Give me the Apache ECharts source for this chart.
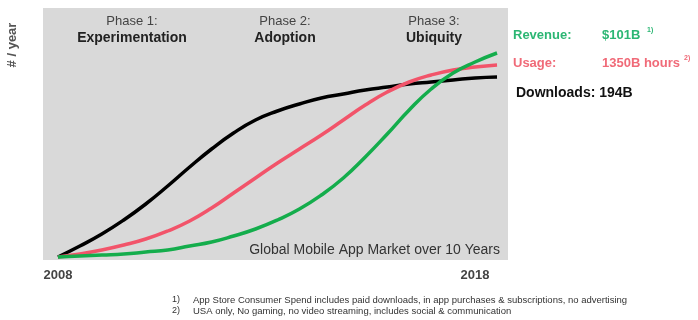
<!DOCTYPE html>
<html>
<head>
<meta charset="utf-8">
<script src="https://cdn.jsdelivr.net/npm/echarts@6/dist/echarts.min.js"></script>
<style>html,body{margin:0;padding:0;background:#fff}#c{width:698px;height:320px}</style>
</head>
<body>
<div id="c"></div>
<script>
// x positions (years) of the sampled points
const years = [2008,2008.5,2009,2009.5,2010,2010.5,2011,2011.5,2012,2012.5,2013,2013.5,2014,2014.5,2015,2015.5,2016,2016.5,2017,2017.5,2018];
// relative yearly level (index)
const downloads = [3,14,26,40,56,74,93,111,127,140,149,156,162,166,170,173,176,178,180,182,183];
const usage     = [3,6,10,15,21,29,39,52,67,82,97,111,125,140,155,168,178,185,190,193,195];
const revenue   = [3,4,5,6,8,10,14,18,24,31,40,51,65,82,103,126,150,171,187,198,207];
const xTickLabels = ['2008','2018'];
const phaseTitles = ['Phase 1:','Phase 2:','Phase 3:'];
const phaseNames = ['Experimentation','Adoption','Ubiquity'];
const footnotes = ['App Store Consumer Spend includes paid downloads, in app purchases & subscriptions, no advertising','USA only, No gaming, no video streaming, includes social & communication'];

const FONT = '"Liberation Sans", Arial, sans-serif';
const pair = arr => years.map((y,i)=>[y,arr[i]]);
const chart = echarts.init(document.getElementById('c'), null, {renderer:'canvas'});
const phaseX = [132, 285, 434];
const graphics = [];
phaseTitles.forEach((t,i)=>{
  graphics.push({type:'text', x:phaseX[i], y:21, style:{text:t, font:'13px '+FONT, fill:'#444', align:'center', verticalAlign:'middle'}});
  graphics.push({type:'text', x:phaseX[i], y:38, style:{text:phaseNames[i], font:'bold 14px '+FONT, fill:'#222', align:'center', verticalAlign:'middle'}});
});
graphics.push({type:'text', x:12, y:45, rotation:Math.PI/2, style:{text:'# / year', font:'bold 13px '+FONT, fill:'#555', align:'center', verticalAlign:'middle'}});
graphics.push({type:'text', x:500, y:250, style:{text:'Global Mobile App Market over 10 Years', font:'14px '+FONT, fill:'#333', align:'right', verticalAlign:'middle'}});
// right-hand legend
const GREEN_T = '#2bb673', PINK_T = '#f06a78';
graphics.push({type:'text', x:513, y:35, style:{text:'Revenue:', font:'bold 13px '+FONT, fill:GREEN_T, verticalAlign:'middle'}});
graphics.push({type:'text', x:602, y:35, style:{text:'$101B', font:'bold 13px '+FONT, fill:GREEN_T, verticalAlign:'middle'}});
graphics.push({type:'text', x:647, y:30, style:{text:'1)', font:'bold 7px '+FONT, fill:GREEN_T, verticalAlign:'middle'}});
graphics.push({type:'text', x:513, y:63, style:{text:'Usage:', font:'bold 13px '+FONT, fill:PINK_T, verticalAlign:'middle'}});
graphics.push({type:'text', x:602, y:63, style:{text:'1350B hours', font:'bold 13px '+FONT, fill:PINK_T, verticalAlign:'middle'}});
graphics.push({type:'text', x:684, y:58, style:{text:'2)', font:'bold 7px '+FONT, fill:PINK_T, verticalAlign:'middle'}});
graphics.push({type:'text', x:516, y:93, style:{text:'Downloads: 194B', font:'bold 14px '+FONT, fill:'#111', verticalAlign:'middle'}});
footnotes.forEach((f,i)=>{
  graphics.push({type:'text', x:172, y:300+i*11, style:{text:(i+1)+')', font:'9px '+FONT, fill:'#333', verticalAlign:'middle'}});
  graphics.push({type:'text', x:193, y:300+i*11, style:{text:f, font:'9.5px '+FONT, fill:'#333', verticalAlign:'middle'}});
});

chart.setOption({
  animation:false,
  backgroundColor:'#fff',
  grid:{left:43, right:190, top:8, bottom:60, show:true, backgroundColor:'#d9d9d9', borderWidth:0},
  xAxis:{type:'value', min:2007.66, max:2018.25,
    axisLine:{show:false}, axisTick:{show:false}, splitLine:{show:false},
    axisLabel:{customValues:[2008,2017.5], formatter:(v)=> v<2010 ? xTickLabels[0] : xTickLabels[1],
      fontFamily:FONT, fontWeight:'bold', fontSize:13, color:'#444', margin:9}},
  yAxis:{type:'value', min:0, max:252, show:false},
  graphic:graphics,
  series:[
    {type:'line', data:pair(downloads), smooth:0.5, symbol:'none', lineStyle:{color:'#000', width:3.5}},
    {type:'line', data:pair(usage), smooth:0.5, symbol:'none', lineStyle:{color:'#f2546a', width:3.5}},
    {type:'line', data:pair(revenue), smooth:0.5, symbol:'none', lineStyle:{color:'#14ad4c', width:3.5}}
  ]
});
</script>
</body>
</html>
